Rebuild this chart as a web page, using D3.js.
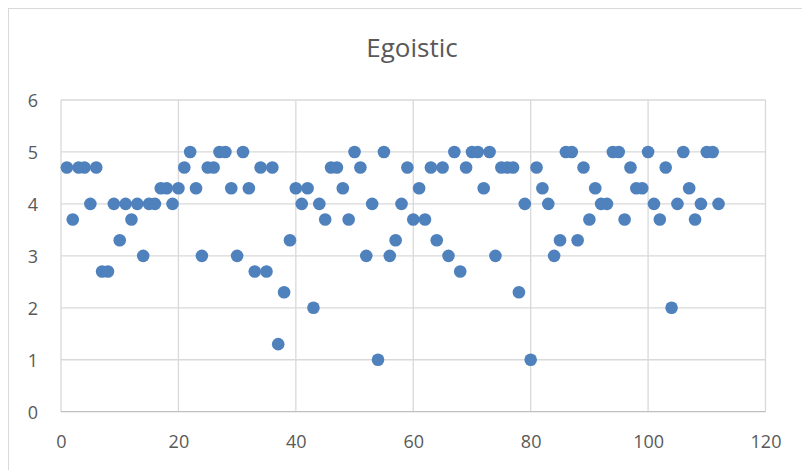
<!DOCTYPE html>
<html>
<head>
<meta charset="utf-8">
<script src="https://cdn.jsdelivr.net/npm/d3@7"></script>
<style>
  html, body { margin: 0; padding: 0; background: #fff; }
  svg { display: block; }
  text { font-family: "Open Sans", "Liberation Sans", sans-serif; fill: #595959; }
</style>
</head>
<body>
<svg id="chart" width="802" height="470"></svg>
<script>
const title = "Egoistic";
const xValues = [1,2,3,4,5,6,7,8,9,10,11,12,13,14,15,16,17,18,19,20,
  21,22,23,24,25,26,27,28,29,30,31,32,33,34,35,36,37,38,39,40,
  41,42,43,44,45,46,47,48,49,50,51,52,53,54,55,56,57,58,59,60,
  61,62,63,64,65,66,67,68,69,70,71,72,73,74,75,76,77,78,79,80,
  81,82,83,84,85,86,87,88,89,90,91,92,93,94,95,96,97,98,99,100,
  101,102,103,104,105,106,107,108,109,110,111,112];
const yValues = [4.7,3.7,4.7,4.7,4.0,4.7,2.7,2.7,4.0,3.3,4.0,3.7,4.0,3.0,4.0,4.0,4.3,4.3,4.0,4.3,
  4.7,5.0,4.3,3.0,4.7,4.7,5.0,5.0,4.3,3.0,5.0,4.3,2.7,4.7,2.7,4.7,1.3,2.3,3.3,4.3,
  4.0,4.3,2.0,4.0,3.7,4.7,4.7,4.3,3.7,5.0,4.7,3.0,4.0,1.0,5.0,3.0,3.3,4.0,4.7,3.7,
  4.3,3.7,4.7,3.3,4.7,3.0,5.0,2.7,4.7,5.0,5.0,4.3,5.0,3.0,4.7,4.7,4.7,2.3,4.0,1.0,
  4.7,4.3,4.0,3.0,3.3,5.0,5.0,3.3,4.7,3.7,4.3,4.0,4.0,5.0,5.0,3.7,4.7,4.3,4.3,5.0,
  4.0,3.7,4.7,2.0,4.0,5.0,4.3,3.7,4.0,5.0,5.0,4.0];
const xTicks = [0,20,40,60,80,100,120];
const yTicks = [0,1,2,3,4,5,6];

const svg = d3.select("#chart");
const plotLeft = 61, plotRight = 765.5, plotTop = 100, plotBottom = 411.7;

// chart area border
svg.append("rect")
  .attr("x", 8.5).attr("y", 8.5)
  .attr("width", 820).attr("height", 480)
  .attr("fill", "#fff").attr("stroke", "#d9d9d9").attr("stroke-width", 1);

const x = d3.scaleLinear().domain([0, 120]).range([plotLeft, plotRight]);
const y = d3.scaleLinear().domain([0, 6]).range([plotBottom, plotTop]);

// horizontal gridlines
svg.append("g").selectAll("line").data(yTicks.filter(d => d !== 0)).join("line")
  .attr("x1", plotLeft).attr("x2", plotRight)
  .attr("y1", d => y(d)).attr("y2", d => y(d))
  .attr("stroke", "#d9d9d9").attr("stroke-width", 1.3);
// vertical gridlines
svg.append("g").selectAll("line").data(xTicks).join("line")
  .attr("x1", d => x(d)).attr("x2", d => x(d))
  .attr("y1", plotTop).attr("y2", plotBottom)
  .attr("stroke", "#d9d9d9").attr("stroke-width", 1.3);
// x axis line
svg.append("line")
  .attr("x1", plotLeft).attr("x2", plotRight).attr("y1", plotBottom).attr("y2", plotBottom)
  .attr("stroke", "#bfbfbf").attr("stroke-width", 1.3);

// axes labels via d3 axes
const xAxis = d3.axisBottom(x).tickValues(xTicks).tickSize(0).tickPadding(0).tickFormat(d3.format("d"));
const gx = svg.append("g").attr("transform", `translate(0,${plotBottom + 36})`).call(xAxis);
gx.select(".domain").remove();
gx.selectAll("text").attr("font-size", 18).attr("fill", "#595959")
  .attr("dy", 0).attr("font-family", "'Open Sans', sans-serif");

const yAxis = d3.axisLeft(y).tickValues(yTicks).tickSize(0).tickPadding(0).tickFormat(d3.format("d"));
const gy = svg.append("g").attr("transform", `translate(38,0)`).call(yAxis);
gy.select(".domain").remove();
gy.selectAll("text").attr("font-size", 18).attr("fill", "#595959")
  .attr("dy", "0.35em").attr("font-family", "'Open Sans', sans-serif");

// title
svg.append("text")
  .attr("x", 412).attr("y", 57)
  .attr("text-anchor", "middle")
  .attr("font-size", 26)
  .text(title);

// points
svg.append("g").selectAll("circle").data(xValues.map((d, i) => [d, yValues[i]])).join("circle")
  .attr("cx", d => x(d[0])).attr("cy", d => y(d[1]))
  .attr("r", 6.3)
  .attr("fill", "#4f81bd");
</script>
</body>
</html>
